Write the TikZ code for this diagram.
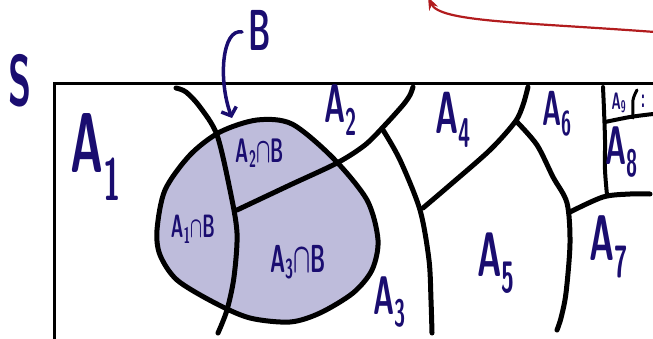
\documentclass[tikz,border=0pt]{standalone}
\usepackage{amsmath,amssymb}
\usepackage{graphicx}
\usepackage{tikz}
\usetikzlibrary{arrows.meta}
\usepackage{xcolor}
\definecolor{ink}{RGB}{26,13,112}
\definecolor{lilac}{RGB}{190,188,219}
\definecolor{penred}{RGB}{178,28,30}
\newcommand{\hw}[2]{\fontsize{#1}{#1}\selectfont\sffamily\bfseries\scalebox{0.9}[1.7]{#2}}
\newcommand{\Alab}[1]{A\textsubscript{#1}}
\newcommand{\ABlab}[1]{A\textsubscript{#1}$\boldsymbol{\cap}$B}

\begin{document}
\begin{tikzpicture}[x=1pt, y=-1pt,
        part/.style={line width=5pt, line cap=round, line join=round},
        lbl/.style={text=ink, inner sep=0pt},
        >=Stealth
      ]
      \clip (0,0) rectangle (653,338);
      \fill[lilac] plot[smooth cycle] coordinates {(157,230) (165,190) (190,155) (220,132) (257,120) (292,124) (333,158) (367,200) (378,240) (372,270) (353,293) (320,313) (290,322) (250,318) (215,303) (177,280) (160,255)};
      \draw[line width=3pt] (54,345) -- (54,83) -- (660,83);
      \draw[part] plot[smooth] coordinates {(176,88) (186,92) (200,107) (217,135) (230,190) (237,233) (234,277) (227,310) (218,333)};
      \draw[part] plot[smooth] coordinates {(237,210) (290,185) (337,163) (365,145) (385,125) (403,105) (410,95) (413,87)};
      \draw[part] plot[smooth] coordinates {(383,130) (400,160) (420,210) (429,260) (431,300) (432,333)};
      \draw[part] plot[smooth] coordinates {(423,208) (450,185) (490,150) (515,122) (523,105) (528,87)};
      \draw[part] plot[smooth] coordinates {(517,122) (537,145) (553,177) (567,203) (570,243) (566,293) (561,318) (557,330)};
      \draw[part] plot[smooth] coordinates {(570,212) (603,197) (630,194) (650,194)};
      \draw[line width=4pt, line cap=round] plot[smooth] coordinates {(603,87) (604,110) (605,140) (605,170) (607,195)};
      \draw[line width=4pt, line cap=round] plot[smooth] coordinates {(605,122) (630,117) (653,114)};
      \draw[line width=3pt, line cap=round] plot[smooth] coordinates {(637,90) (633,100) (633,118)};
      \draw[part] plot[smooth cycle] coordinates {(157,230) (165,190) (190,155) (220,132) (257,120) (292,124) (333,158) (367,200) (378,240) (372,270) (353,293) (320,313) (290,322) (250,318) (215,303) (177,280) (160,255)};
      \node[lbl] (S) at (20,81) {\hw{42}{S}};
      \node[lbl] (B) at (260,30) {\hw{34}{B}};
      \coordinate (Btail) at (242,32);
      \coordinate (Btip) at (232,118);
      \draw[ink, line width=3.5pt, line cap=round, -{Straight Barb[length=7pt,width=16pt]}] (Btail) .. controls (222,28) and (218,80) .. (Btip);
      \coordinate (redA) at (655,32);
      \coordinate (redB) at (428,-3);
      \draw[penred, line width=2.2pt, ->] (redA) .. controls (520,22) and (440,22) .. (redB);
      \node[lbl] (A1) at (96,157) {\hw{50}{\Alab{1}}};
      \node[lbl] (A2) at (341,110) {\hw{32}{\Alab{2}}};
      \node[lbl] (A3) at (390,302) {\hw{32}{\Alab{3}}};
      \node[lbl] (A4) at (453,120) {\hw{35}{\Alab{4}}};
      \node[lbl] (A5) at (496,263) {\hw{37}{\Alab{5}}};
      \node[lbl] (A6) at (557,114) {\hw{29}{\Alab{6}}};
      \node[lbl] (A7) at (609,247) {\hw{38}{\Alab{7}}};
      \node[lbl] (A8) at (622,152) {\hw{32}{\Alab{8}}};
      \node[lbl] (A9) at (619,103) {\hw{14}{\Alab{9}}};
      \node[lbl] (dots) at (643,101) {\hw{16}{:}};
      \node[lbl] (A1B) at (193,229) {\hw{19}{\ABlab{1}}};
      \node[lbl] (A2B) at (260,153) {\hw{20}{\ABlab{2}}};
      \node[lbl] (A3B) at (298,262) {\hw{23}{\ABlab{3}}};
    \end{tikzpicture}
\end{document}
